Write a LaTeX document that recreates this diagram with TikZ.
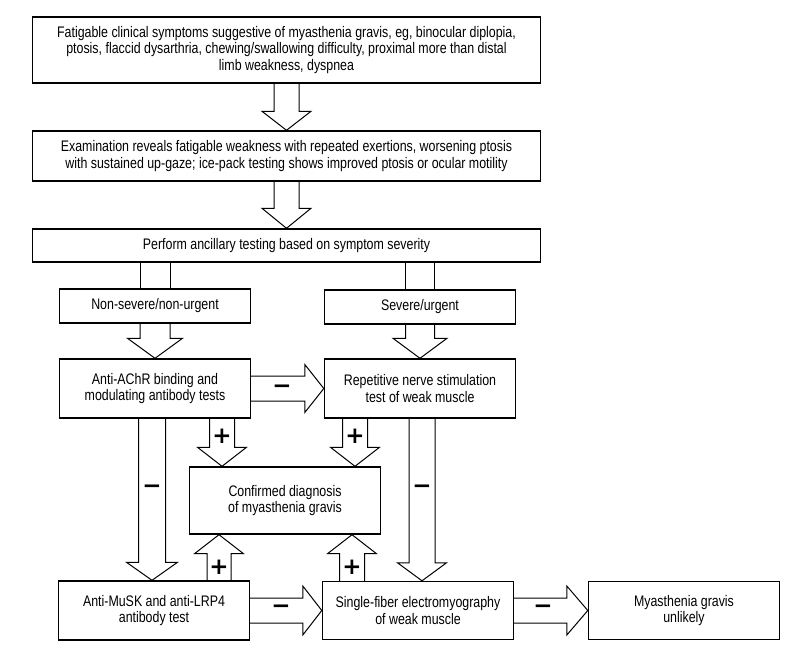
\documentclass[tikz,border=0pt]{standalone}
\usepackage{fontspec}
\setmainfont{Liberation Sans}[FakeStretch=0.81]
\newfontfamily\signfont{DejaVu Sans}
\usetikzlibrary{calc}

\tikzset{
	fat shaft/.store in=\fatsw,
	fat head/.store in=\fathw,
	fat len/.store in=\fathl,
	fat shaft=12.5pt, fat head=24.5pt, fat len=19pt,
	fat/.style={draw, line width=1pt, line join=miter, to path={
		let \p1=(\tikztostart), \p2=(\tikztotarget) in
		($(\p1)!\fatsw!-90:(\p2)$) -- ($(\p2)!\fathl!(\p1)!\fatsw!90:(\p1)$)
		-- ($(\p2)!\fathl!(\p1)!\fathw!90:(\p1)$) -- (\p2)
		-- ($(\p2)!\fathl!(\p1)!\fathw!-90:(\p1)$)
		-- ($(\p2)!\fathl!(\p1)!\fatsw!-90:(\p1)$) -- ($(\p1)!\fatsw!90:(\p2)$)}},
	fatbar/.style={draw, line width=1pt, to path={
		let \p1=(\tikztostart), \p2=(\tikztotarget) in
		($(\p1)!\fatsw!-90:(\p2)$) -- ($(\p2)!\fatsw!90:(\p1)$)
		($(\p1)!\fatsw!90:(\p2)$) -- ($(\p2)!\fatsw!-90:(\p1)$)}},
	box/.style={draw, rectangle, line width=1.4pt, align=center, inner sep=0pt,
		font=\fontsize{15.3}{16.7}\selectfont},
	wide/.style={box, minimum width=508pt},
	small/.style={box, minimum width=191pt},
	sign/.style={inner sep=0pt, font=\signfont\bfseries\fontsize{23}{23}\selectfont}
}

\begin{document}
\begin{tikzpicture}[x=1pt, y=-1pt]

	\useasboundingbox[fill=white] (0, 0) rectangle (800, 660);

	\node[wide, minimum height=66pt] (sym) at (286.5, 50) {Fatigable clinical symptoms suggestive of myasthenia gravis, eg, binocular diplopia,\\ptosis, flaccid dysarthria, chewing/swallowing difficulty, proximal more than distal\\limb weakness, dyspnea};
	\node[wide, minimum height=50pt] (exam) at (286.5, 156) {Examination reveals fatigable weakness with repeated exertions, worsening ptosis\\with sustained up-gaze; ice-pack testing shows improved ptosis or ocular motility};
	\node[wide, minimum height=33pt] (anc) at (286.5, 245.5) {Perform ancillary testing based on symptom severity};
	\node[small, minimum height=34pt] (nons) at (155, 306) {Non-severe/non-urgent};
	\node[small, minimum height=34pt] (sev) at (420, 307) {Severe/urgent};
	\node[small, minimum height=59pt] (achr) at (155, 388.5) {Anti-AChR binding and\\modulating antibody tests};
	\node[small, minimum height=59pt] (rns) at (420, 388.5) {Repetitive nerve stimulation\\test of weak muscle};
	\node[small, minimum height=67pt] (conf) at (285, 500.5) {Confirmed diagnosis\\of myasthenia gravis};
	\node[small, minimum height=59pt] (musk) at (154, 610.5) {Anti-MuSK and anti-LRP4\\antibody test};
	\node[small, minimum height=58pt] (sfemg) at (418, 610.5) {Single-fiber electromyography\\of weak muscle};
	\node[small, minimum height=58pt] (unl) at (684, 610.5) {Myasthenia gravis\\unlikely};

	% main column
	\draw[fat] (sym.south) to (exam.north);
	\draw[fat, fat len=20pt] (exam.south) to (anc.north);

	% severity branches
	\draw[fatbar, fat shaft=15pt] (anc.south -| nons.north) to (nons.north);
	\draw[fatbar, fat shaft=14.5pt] (anc.south -| sev.north) to (sev.north);
	\draw[fat, fat shaft=15pt, fat head=27.5pt, fat len=20pt] (nons.south) to (achr.north);
	\draw[fat, fat shaft=14.5pt, fat head=27pt, fat len=20pt] (sev.south) to (rns.north);

	% test results
	\draw[fat, fat head=24pt] (achr.east) to (rns.west);
	\draw[fat] (achr.south -| 222,0) to (conf.north -| 222,0);
	\draw[fat] (rns.south -| 355,0) to (conf.north -| 355,0);
	\draw[fat, fat shaft=13.5pt, fat head=25.5pt, fat len=18pt] (achr.south -| 152,0) to (musk.north -| 152,0);
	\draw[fat, fat shaft=13pt, fat head=24.5pt, fat len=18pt] (rns.south -| 422,0) to (sfemg.north -| 422,0);
	\draw[fat, fat shaft=12pt] (musk.north -| 219,0) to (conf.south -| 219,0);
	\draw[fat, fat shaft=12.5pt] (sfemg.north -| 352,0) to (conf.south -| 352,0);
	\draw[fat, fat head=24.5pt] (musk.east) to (sfemg.west);
	\draw[fat, fat head=24.5pt, fat len=21pt] (sfemg.east) to (unl.west);

	% signs
	\node[sign] (m1) at (282, 389) {−};
	\node[sign] (m2) at (152, 489) {−};
	\node[sign] (m3) at (422, 489) {−};
	\node[sign] (m4) at (281, 609) {−};
	\node[sign] (m5) at (543, 609) {−};
	\node[sign] (p1) at (222, 436) {+};
	\node[sign] (p2) at (355, 436) {+};
	\node[sign] (p3) at (219, 567) {+};
	\node[sign] (p4) at (352, 567) {+};

\end{tikzpicture}
\end{document}
